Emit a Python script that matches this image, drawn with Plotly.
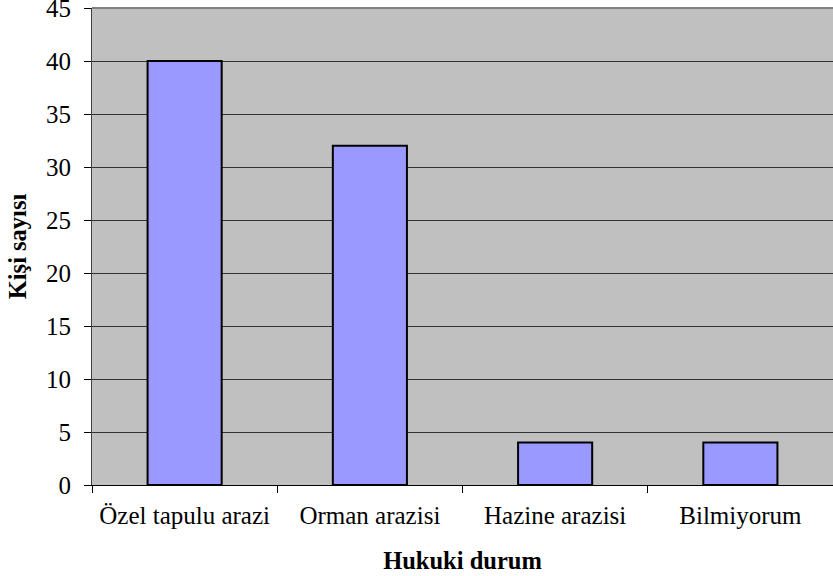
import plotly.graph_objects as go

categories = ["Özel tapulu arazi", "Orman arazisi", "Hazine arazisi", "Bilmiyorum"]
values = [40, 32, 4, 4]
y_ticks = [0, 5, 10, 15, 20, 25, 30, 35, 40, 45]

font_family = "Times New Roman, Liberation Serif, DejaVu Serif, serif"

fig = go.Figure(go.Bar(
    x=categories, y=values,
    marker=dict(color="#9999FF", line=dict(color="black", width=2)),
    width=0.4,
))

fig.update_layout(
    width=833, height=576,
    margin=dict(l=92, r=0, t=8, b=91),
    paper_bgcolor="white",
    plot_bgcolor="#C0C0C0",
    font=dict(family=font_family, size=25, color="black"),
    showlegend=False,
)

fig.update_yaxes(
    range=[0, 45], tickvals=y_ticks,
    showgrid=True, gridcolor="#333333", gridwidth=1,
    ticks="outside", ticklen=7, tickcolor="black",
    showline=True, linecolor="#404040", linewidth=1,
    zeroline=False,
    ticklabelstandoff=8,
    ticklabeloverflow="allow",
    automargin=False,
    title=dict(text="<b>Kişi sayısı</b>", font=dict(size=24.5, family=font_family), standoff=12),
    tickfont=dict(size=25, family=font_family),
)

fig.update_xaxes(
    showline=True, linecolor="black", linewidth=1,
    ticks="outside", ticklen=7, tickcolor="black", tickson="boundaries",
    showgrid=False,
    ticklabelstandoff=8,
    automargin=False,
    title=dict(text="<b>Hukuki durum</b>", font=dict(size=24.5, family=font_family), standoff=23),
    tickfont=dict(size=25, family=font_family),
)

fig.add_shape(type="line", xref="paper", yref="paper", x0=0, x1=1, y0=1, y1=1,
              line=dict(color="#808080", width=2))

fig.write_html("out.html",
               config={"displayModeBar": False},
               post_script="document.body.style.margin='0';document.body.style.overflow='hidden';")
